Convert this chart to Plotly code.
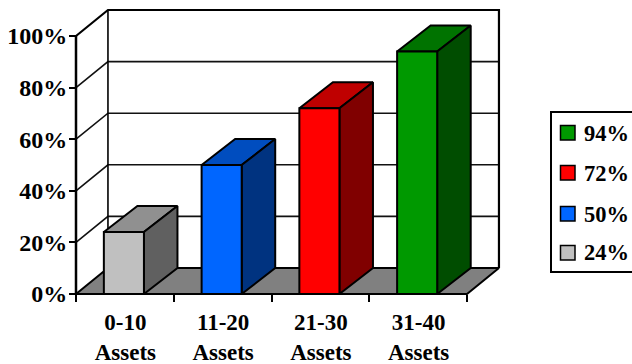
import plotly.graph_objects as go

# Chart content
categories = ["0-10", "11-20", "21-30", "31-40"]
values = [24, 50, 72, 94]
front_colors = ["#C0C0C0", "#0066FF", "#FF0000", "#009900"]
top_colors = ["#909090", "#004DBF", "#BF0000", "#007300"]
side_colors = ["#606060", "#003380", "#800000", "#004D00"]
y_ticks = [0, 20, 40, 60, 80, 100]

# Oblique projection of the depth direction, in axis units
DEPTH_X = 0.327
DEPTH_Y = 10.08
BAR_DEPTH_X = 0.343
BAR_WIDTH = 0.41
BAR_CENTER = 0.49
LABEL_CENTER = 0.505
FONT = dict(family="Liberation Serif", size=23, color="black", weight="bold")

W, H = 632, 364
# Pixel frame of the front of the box
FRONT_L, FRONT_R, FRONT_T, FRONT_B = 76, 467, 36, 294
# The subplot is larger than that frame so the walls fit inside its clip area
LEFT, RIGHT, TOP, BOTTOM = 60, 505, 6, 300

PX_PER_CAT = (FRONT_R - FRONT_L) / len(categories)
PX_PER_PCT = (FRONT_B - FRONT_T) / 100


def poly(xs, ys, fill, width=2):
    return go.Scatter(
        x=xs, y=ys, mode="lines", fill="toself", fillcolor=fill,
        line=dict(color="black", width=width), hoverinfo="skip", showlegend=False,
    )


def line(xs, ys, width=1.6, color="#111111"):
    return go.Scatter(
        x=xs, y=ys, mode="lines", line=dict(color=color, width=width),
        hoverinfo="skip", showlegend=False,
    )


fig = go.Figure()
n = len(categories)

# Gridlines run up the left wall and across the back wall
for t in y_ticks[1:-1]:
    fig.add_trace(line([0, DEPTH_X, n + DEPTH_X], [t, t + DEPTH_Y, t + DEPTH_Y]))

# Walls outline and the value axis line
fig.add_trace(line([0, DEPTH_X, n + DEPTH_X, n + DEPTH_X],
                   [100, 100 + DEPTH_Y, 100 + DEPTH_Y, DEPTH_Y], width=2.2, color="black"))
fig.add_trace(line([DEPTH_X, DEPTH_X], [DEPTH_Y, 100 + DEPTH_Y], width=1.6, color="black"))

# Floor
fig.add_trace(poly([0, n, n + DEPTH_X, DEPTH_X, 0], [0, 0, DEPTH_Y, DEPTH_Y, 0], "#808080"))
fig.add_trace(line([0, 0], [0, 100], width=2.5, color="black"))

# Bars: top, side, then front face
for i, v in enumerate(values):
    x0 = i + BAR_CENTER - BAR_WIDTH / 2
    x1 = i + BAR_CENTER + BAR_WIDTH / 2
    fig.add_trace(poly([x0, x1, x1 + BAR_DEPTH_X, x0 + BAR_DEPTH_X, x0],
                       [v, v, v + DEPTH_Y, v + DEPTH_Y, v], top_colors[i]))
    fig.add_trace(poly([x1, x1 + BAR_DEPTH_X, x1 + BAR_DEPTH_X, x1, x1],
                       [0, DEPTH_Y, v + DEPTH_Y, v, 0], side_colors[i]))
    fig.add_trace(poly([x0, x1, x1, x0, x0], [0, 0, v, v, 0], front_colors[i]))


def px_x(p):
    return (p - LEFT) / (RIGHT - LEFT)


def px_y(p):
    return (BOTTOM - p) / (BOTTOM - TOP)


# Legend box, highest value first; its right edge runs off the page
shapes = [dict(type="rect", xref="paper", yref="paper",
               x0=px_x(551), x1=px_x(640), y0=px_y(272), y1=px_y(112),
               line=dict(color="black", width=2), fillcolor="white")]
annotations = []
legend_rows = [133, 173, 214, 253]
for row, i in zip(legend_rows, reversed(range(n))):
    shapes.append(dict(type="rect", xref="paper", yref="paper",
                       x0=px_x(560.5), x1=px_x(575), y0=px_y(row + 7), y1=px_y(row - 7.5),
                       line=dict(color="black", width=1.5), fillcolor=front_colors[i]))
    annotations.append(dict(xref="paper", yref="paper", x=px_x(582), y=px_y(row),
                            text=f"{values[i]}%", showarrow=False,
                            xanchor="left", yanchor="middle",
                            font=dict(FONT, size=22.5)))

fig.update_layout(
    width=W, height=H, autosize=False,
    margin=dict(l=LEFT, r=W - RIGHT, t=TOP, b=H - BOTTOM, pad=0),
    paper_bgcolor="white", plot_bgcolor="white",
    showlegend=False, shapes=shapes, annotations=annotations,
    xaxis=dict(
        range=[(LEFT - FRONT_L) / PX_PER_CAT, (RIGHT - FRONT_L) / PX_PER_CAT],
        anchor="free", position=px_y(FRONT_B), automargin=False,
        showgrid=False, zeroline=False, showline=False,
        tickmode="array",
        tickvals=[i + LABEL_CENTER for i in range(n)],
        ticktext=[f"{c}<br>Assets" for c in categories],
        ticks="", tickfont=FONT, ticklabelstandoff=12,
        minor=dict(tickmode="array", tickvals=list(range(n + 1)), ticks="outside",
                   ticklen=7, tickwidth=2, tickcolor="black", showgrid=False),
    ),
    yaxis=dict(
        range=[(FRONT_B - BOTTOM) / PX_PER_PCT, (FRONT_B - TOP) / PX_PER_PCT],
        anchor="free", position=px_x(FRONT_L), automargin=False,
        showgrid=False, zeroline=False, showline=False,
        tickmode="array", tickvals=y_ticks, ticktext=[f"{t}%" for t in y_ticks],
        ticks="outside", ticklen=7, tickwidth=2, tickcolor="black",
        tickfont=dict(FONT, size=24), ticklabelstandoff=-3,
    ),
)

fig.write_html("out.html", config=dict(displayModeBar=False))
